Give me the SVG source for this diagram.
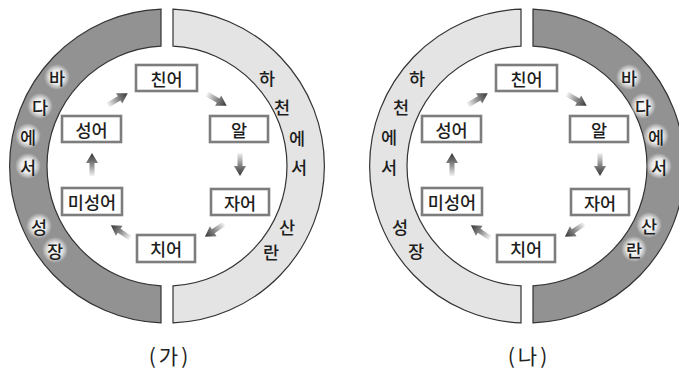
<svg xmlns="http://www.w3.org/2000/svg" xmlns:xlink="http://www.w3.org/1999/xlink" width="679" height="375" viewBox="0 0 679 375">
<style>
.dark{fill:#929292;stroke:#333;stroke-width:1.2}
.light{fill:#e4e4e4;stroke:#333;stroke-width:1.2}
.box{fill:#fff;stroke:#7d7d7d;stroke-width:2.6}
.lbl{font-family:"Noto Sans CJK KR","Noto Sans",sans-serif;font-size:17.5px;font-weight:500;fill:#1e1e1e;text-anchor:middle;dominant-baseline:central}
.ring{font-family:"Noto Sans CJK KR","Noto Sans",sans-serif;font-size:17.5px;font-weight:500;fill:#1e1e1e;text-anchor:middle;dominant-baseline:central}
.cap{font-family:"Noto Sans CJK KR","Noto Sans",sans-serif;font-size:21px;fill:#222;text-anchor:middle;dominant-baseline:central;letter-spacing:3px}
.glow{fill:url(#gl)}
</style>
<defs>
<linearGradient id="ag" x1="0" y1="0" x2="1" y2="0">
<stop offset="0" stop-color="#f2f2f2"/>
<stop offset="0.5" stop-color="#8a8a8a"/>
<stop offset="1" stop-color="#333"/>
</linearGradient>
<radialGradient id="gl" cx="0.5" cy="0.5" r="0.5">
<stop offset="0" stop-color="#fff" stop-opacity="1"/>
<stop offset="0.55" stop-color="#fff" stop-opacity="0.8"/>
<stop offset="1" stop-color="#fff" stop-opacity="0"/>
</radialGradient>
<polygon id="arr" points="0,-2.5 13,-2.5 13,-6 23,0 13,6 13,2.5 0,2.5" fill="url(#ag)"/>
</defs>

<!-- (가) -->
<g id="diagram-ga">
<g id="ga-ring">
<path class="dark" d="M161,9.1 A157,157 0 0 0 161,322.9 L161,285.85 A120,120 0 0 1 161,46.15 Z"/>
<path class="light" d="M173,9.1 A157,157 0 0 1 173,322.9 L173,285.85 A120,120 0 0 0 173,46.15 Z"/>
<circle class="glow" cx="57" cy="77" r="13"/>
<circle class="glow" cx="40" cy="106" r="13"/>
<circle class="glow" cx="28" cy="136" r="13"/>
<circle class="glow" cx="28" cy="166" r="13"/>
<circle class="glow" cx="39" cy="226" r="13"/>
<circle class="glow" cx="55" cy="250" r="13"/>
<text class="ring" x="57" y="77">바</text>
<text class="ring" x="40" y="106">다</text>
<text class="ring" x="28" y="136">에</text>
<text class="ring" x="28" y="166">서</text>
<text class="ring" x="39" y="226">성</text>
<text class="ring" x="55" y="250">장</text>
<text class="ring" x="267" y="77">하</text>
<text class="ring" x="282" y="106">천</text>
<text class="ring" x="297" y="137">에</text>
<text class="ring" x="299" y="166">서</text>
<text class="ring" x="287" y="226">산</text>
<text class="ring" x="271" y="251">란</text>
</g>
<g id="ga-connectors">
<use xlink:href="#arr" transform="translate(108,105) rotate(-31)"/>
<use xlink:href="#arr" transform="translate(207,94) rotate(31)"/>
<use xlink:href="#arr" transform="translate(240,153) rotate(90)"/>
<use xlink:href="#arr" transform="translate(224,224) rotate(146)"/>
<use xlink:href="#arr" transform="translate(130,238) rotate(-146)"/>
<use xlink:href="#arr" transform="translate(92,176) rotate(-90)"/>
</g>
<g id="ga-chineo"><rect class="box" x="136" y="65" width="61" height="26"/><text class="lbl" x="166.5" y="78">친어</text></g>
<g id="ga-al"><rect class="box" x="210" y="116" width="58" height="26"/><text class="lbl" x="239" y="129">알</text></g>
<g id="ga-jaeo"><rect class="box" x="211" y="189" width="58" height="26"/><text class="lbl" x="240" y="202">자어</text></g>
<g id="ga-chieo"><rect class="box" x="137" y="235" width="58" height="27"/><text class="lbl" x="166" y="248.5">치어</text></g>
<g id="ga-miseongeo"><rect class="box" x="62" y="188" width="60" height="27"/><text class="lbl" x="92" y="201.5">미성어</text></g>
<g id="ga-seongeo"><rect class="box" x="62" y="116" width="59" height="26"/><text class="lbl" x="91.5" y="129">성어</text></g>
<text id="ga-caption" class="cap" x="170" y="355">(가)</text>
</g>

<!-- (나) -->
<g id="diagram-na">
<g id="na-ring">
<path class="light" d="M521,9.1 A157,157 0 0 0 521,322.9 L521,285.85 A120,120 0 0 1 521,46.15 Z"/>
<path class="dark" d="M533,9.1 A157,157 0 0 1 533,322.9 L533,285.85 A120,120 0 0 0 533,46.15 Z"/>
<circle class="glow" cx="629" cy="77" r="13"/>
<circle class="glow" cx="643" cy="106" r="13"/>
<circle class="glow" cx="656" cy="136" r="13"/>
<circle class="glow" cx="659" cy="166" r="13"/>
<circle class="glow" cx="649" cy="225" r="13"/>
<circle class="glow" cx="634" cy="249" r="13"/>
<text class="ring" x="417" y="77">하</text>
<text class="ring" x="401" y="106">천</text>
<text class="ring" x="389" y="136">에</text>
<text class="ring" x="389" y="166">서</text>
<text class="ring" x="400" y="226">성</text>
<text class="ring" x="416" y="250">장</text>
<text class="ring" x="629" y="77">바</text>
<text class="ring" x="643" y="106">다</text>
<text class="ring" x="656" y="136">에</text>
<text class="ring" x="659" y="166">서</text>
<text class="ring" x="649" y="225">산</text>
<text class="ring" x="634" y="249">란</text>
</g>
<g id="na-connectors">
<use xlink:href="#arr" transform="translate(468,105) rotate(-31)"/>
<use xlink:href="#arr" transform="translate(567,94) rotate(31)"/>
<use xlink:href="#arr" transform="translate(600,153) rotate(90)"/>
<use xlink:href="#arr" transform="translate(584,224) rotate(146)"/>
<use xlink:href="#arr" transform="translate(490,238) rotate(-146)"/>
<use xlink:href="#arr" transform="translate(452,176) rotate(-90)"/>
</g>
<g id="na-chineo"><rect class="box" x="496" y="65" width="61" height="26"/><text class="lbl" x="526.5" y="78">친어</text></g>
<g id="na-al"><rect class="box" x="570" y="116" width="58" height="26"/><text class="lbl" x="599" y="129">알</text></g>
<g id="na-jaeo"><rect class="box" x="571" y="189" width="58" height="26"/><text class="lbl" x="600" y="202">자어</text></g>
<g id="na-chieo"><rect class="box" x="497" y="235" width="58" height="27"/><text class="lbl" x="526" y="248.5">치어</text></g>
<g id="na-miseongeo"><rect class="box" x="422" y="188" width="60" height="27"/><text class="lbl" x="452" y="201.5">미성어</text></g>
<g id="na-seongeo"><rect class="box" x="422" y="116" width="59" height="26"/><text class="lbl" x="451.5" y="129">성어</text></g>
<text id="na-caption" class="cap" x="529" y="355">(나)</text>
</g>
</svg>
